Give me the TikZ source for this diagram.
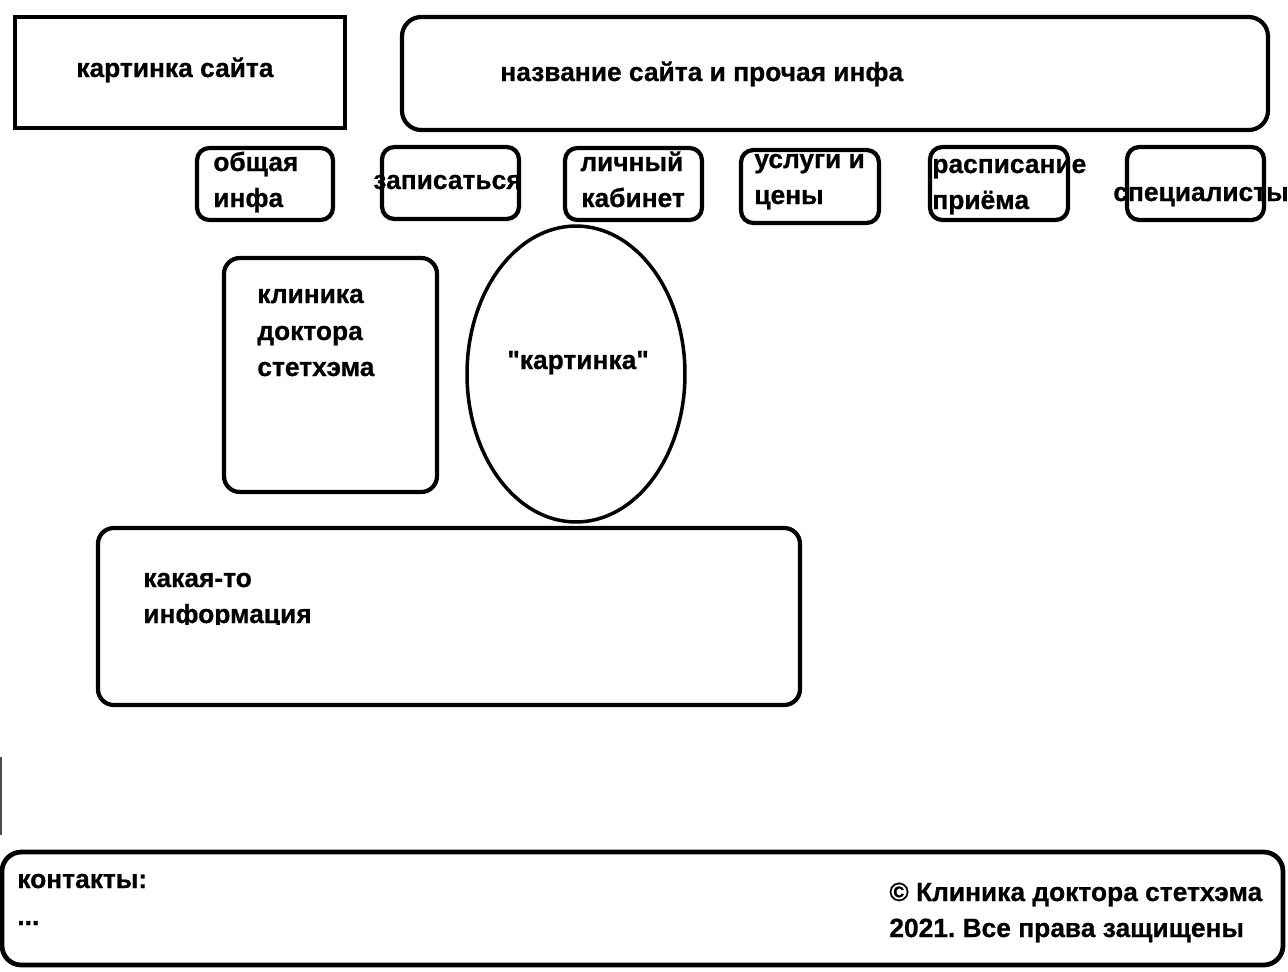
\documentclass[tikz,border=0pt]{standalone}
\usepackage{fontspec}
\setmainfont{Liberation Sans}[Ligatures=TeXOff,BoldFeatures={FakeBold=0.7}]
\frenchspacing
\begin{document}
\begin{tikzpicture}[x=0.02cm,y=-0.02cm,
  frame/.style={line width=2.6pt},
  box/.style={line width=2.4pt, rounded corners=7pt},
  lbl/.style={anchor=base west, inner sep=0pt, font=\bfseries\fontsize{15}{17}\selectfont},
]
\useasboundingbox[fill=white] (0,0) rectangle (1288,971);
% header
\draw[frame] (15,17) rectangle (345,128);
\draw[box, rounded corners=11pt] (402,17) rectangle (1268,130);
\node[lbl] (logo) at (76,77) {картинка сайта};
\node[lbl] (title) at (500,81) {название сайта и прочая инфа};
% navigation
\draw[box] (197,148) rectangle (333,220);
\draw[box] (382,147) rectangle (519,219);
\draw[box] (565,148) rectangle (702,220);
\draw[box] (741,150) rectangle (879,223);
\draw[box] (930,147) rectangle (1068,220);
\draw[box] (1127,147) rectangle (1264,220);
\node[lbl] (n1a) at (213,171) {общая};
\node[lbl] (n1b) at (213,207) {инфа};
\node[lbl] (n2) at (373,189) {записаться};
\node[lbl] (n3a) at (580,171) {личный};
\node[lbl] (n3b) at (581,207) {кабинет};
\node[lbl] (n4a) at (754,168) {услуги и};
\node[lbl] (n4b) at (754,204) {цены};
\node[lbl] (n5a) at (932,173) {расписание};
\node[lbl] (n5b) at (932,209) {приёма};
\node[lbl] (n6) at (1113,201) {специалисты};
% middle
\draw[box, rounded corners=9pt] (224,258) rectangle (437,492);
\node[lbl] (k1) at (257,303) {клиника};
\node[lbl] (k2) at (257,340) {доктора};
\node[lbl] (k3) at (257,376) {стетхэма};
\draw[line width=2pt] (576,374) ellipse [x radius=2.18cm, y radius=2.96cm];
\node[lbl] (pic) at (507,369) {"картинка"};
\draw[box, rounded corners=9pt] (98,528) rectangle (800,705);
\node[lbl] (i1) at (143,587) {какая-то};
\begin{scope}
\clip (0,0) rectangle (1288,624);
\node[lbl] (i2) at (143,623) {информация};
\end{scope}
% stray mark
\draw[line width=0.6pt, black!70] (1,757) -- (1,835);
% footer
\draw[line width=2.7pt, rounded corners=11pt] (2,852) rectangle (1283,965);
\node[lbl] (c1) at (17,888) {контакты:};
\node[lbl] (c2) at (17,925) {...};
\node[lbl] (r1) at (889,901) {© Клиника доктора стетхэма};
\node[lbl] (r2) at (889,937) {2021. Все права защищены};
\end{tikzpicture}
\end{document}
